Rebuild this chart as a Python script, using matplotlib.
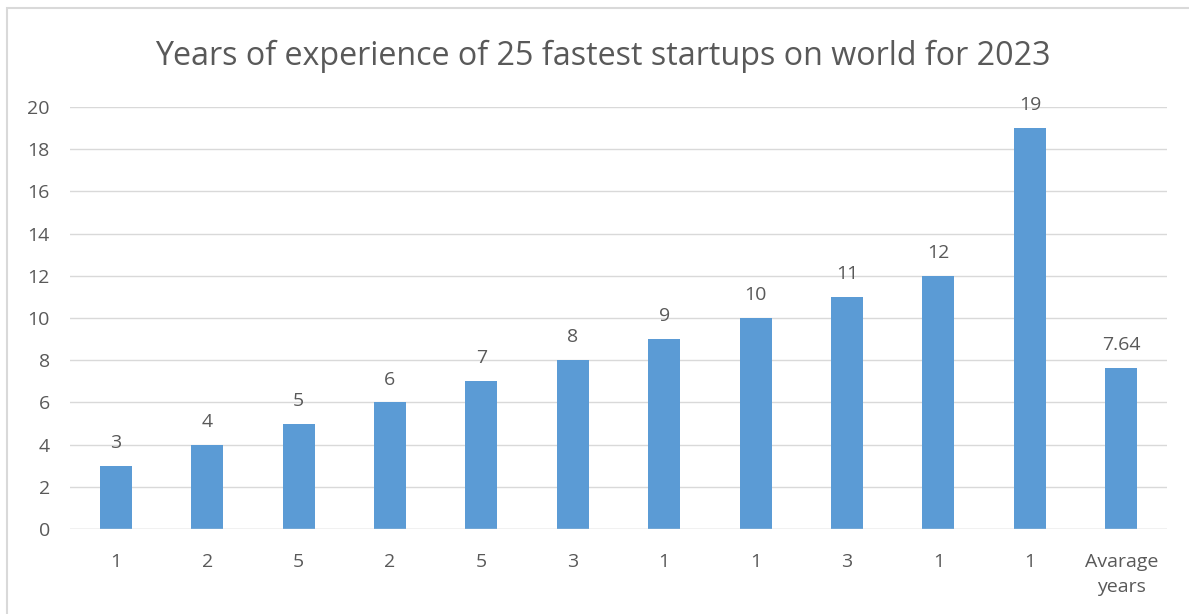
import matplotlib.pyplot as plt
import numpy as np
from matplotlib.patches import Rectangle

plt.rcParams['font.family'] = ['Open Sans', 'DejaVu Sans']

# chart data
labels = ['1', '2', '5', '2', '5', '3', '1', '1', '3', '1', '1', 'Avarage\nyears']
values = [3, 4, 5, 6, 7, 8, 9, 10, 11, 12, 19, 7.64]
value_text = ['3', '4', '5', '6', '7', '8', '9', '10', '11', '12', '19', '7.64']

grey = '#595959'
fig = plt.figure(figsize=(11.89, 6.14), dpi=100)
ax = fig.add_axes([0.0589, 0.1384, 0.9226, 0.6873])

x = np.arange(len(values))
bars = ax.bar(x, values, width=0.35, color='#5B9BD5', zorder=3)
for b, t in zip(bars, value_text):
    ax.annotate(t, (b.get_x() + b.get_width() / 2, b.get_height()),
                xytext=(0, 10), textcoords='offset points',
                ha='center', va='bottom', fontsize=14, color=grey)

ax.set_xlim(-0.5, len(values) - 0.5)
ax.set_ylim(0, 20)
ax.set_yticks(range(0, 21, 2))
ax.set_xticks(x)
ax.set_xticklabels(labels, linespacing=1.5)
ax.tick_params(axis='both', length=0, labelsize=14, labelcolor=grey)
ax.tick_params(axis='x', pad=17)
ax.tick_params(axis='y', pad=14.5)
ax.yaxis.grid(True, color='#D9D9D9', linewidth=1, zorder=0)
for s in ax.spines.values():
    s.set_visible(False)
ax.axhline(0, color='#D9D9D9', linewidth=1, zorder=4)

fig.text(0.507, 0.908, 'Years of experience of 25 fastest startups on world for 2023',
         ha='center', va='center', fontsize=23.2, color=grey)

# chart border
fig.patches.append(Rectangle((7 / 1189, -0.01), 1.0, 1 - 8 / 614 + 0.01,
                             transform=fig.transFigure, fill=False,
                             edgecolor='#D9D9D9', linewidth=1.5))

fig.savefig('out.png', dpi=100)
